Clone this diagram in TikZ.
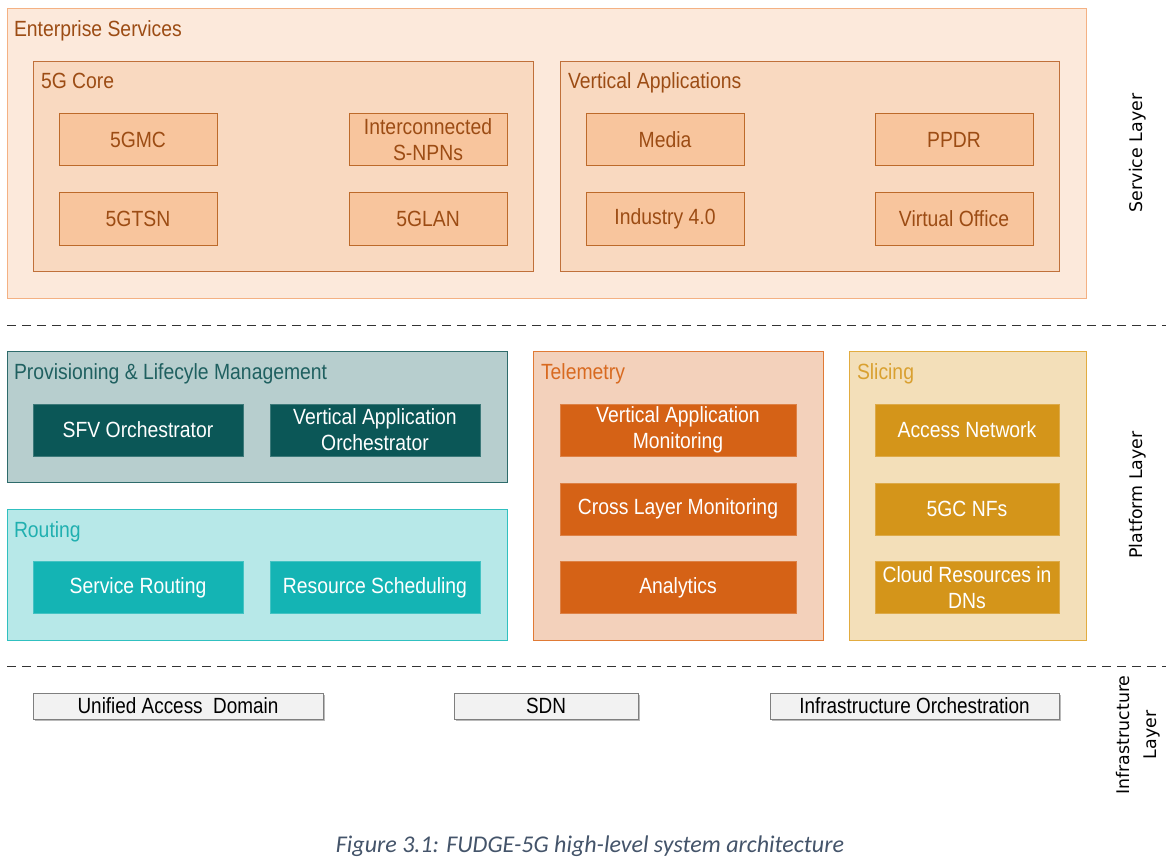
\documentclass[tikz,border=0pt]{standalone}
\usepackage{fontspec}
\usetikzlibrary{shadows}
\setmainfont{Liberation Sans}[FakeStretch=0.88]
\newfontfamily\layerfont{DejaVu Sans}
\newfontfamily\capfont{Carlito}
\newfontfamily\narrowfont{Liberation Sans}[FakeStretch=0.86]
\definecolor{esfill}{HTML}{FCE9DB}
\definecolor{esdraw}{HTML}{F4B183}
\definecolor{corefill}{HTML}{F9D9C0}
\definecolor{coredraw}{HTML}{C0703A}
\definecolor{itemfill}{HTML}{F8C59D}
\definecolor{itemdraw}{HTML}{BD6A2A}
\definecolor{brown}{HTML}{9C4C14}
\definecolor{provfill}{HTML}{B7CECE}
\definecolor{provdraw}{HTML}{2E6B6B}
\definecolor{provtext}{HTML}{1F6060}
\definecolor{provitem}{HTML}{0B5757}
\definecolor{routfill}{HTML}{B7E8E8}
\definecolor{routdraw}{HTML}{30C0C0}
\definecolor{routtext}{HTML}{20B0B0}
\definecolor{routitem}{HTML}{14B4B4}
\definecolor{telfill}{HTML}{F3D1BB}
\definecolor{teldraw}{HTML}{E07A35}
\definecolor{teltext}{HTML}{D86A20}
\definecolor{telitem}{HTML}{D56216}
\definecolor{slifill}{HTML}{F3DFB9}
\definecolor{slidraw}{HTML}{E2AC40}
\definecolor{slitext}{HTML}{D9A030}
\definecolor{sliitem}{HTML}{D4951A}
\definecolor{capcol}{HTML}{44546A}
\definecolor{infdraw}{HTML}{7F7F7F}
\definecolor{inffill}{HTML}{F2F2F2}
\begin{document}
\begin{tikzpicture}[x=1pt,y=-1pt,
  every node/.style={inner sep=0pt,outer sep=0pt},
  txt/.style={font=\fontsize{22}{26}\selectfont,align=center},
  esbox/.style={draw=esdraw,fill=esfill,line width=1pt},
  corebox/.style={draw=coredraw,fill=corefill,line width=1pt},
  sitem/.style={draw=itemdraw,fill=itemfill,line width=1pt,txt,text=brown,minimum width=158pt,minimum height=52pt},
  pitem/.style={fill=provitem,draw=provitem!80!white,txt,text=white,minimum width=210pt,minimum height=52pt},
  ritem/.style={fill=routitem,draw=routitem!80!white,txt,text=white,minimum width=210pt,minimum height=52pt},
  titem/.style={fill=telitem,draw=telitem!80!white,txt,text=white,minimum width=236pt,minimum height=52pt},
  litem/.style={fill=sliitem,draw=sliitem!80!white,txt,text=white,minimum width=184pt,minimum height=52pt},
  ibox/.style={draw=infdraw,fill=inffill,line width=1pt,font=\narrowfont\fontsize{22}{24}\selectfont,minimum height=26pt,
    drop shadow={opacity=0.45,shadow xshift=1.5pt,shadow yshift=-1.5pt,fill=black!60}},
  ttl/.style={anchor=base west,font=\fontsize{22}{24}\selectfont},
  layer/.style={rotate=90,font=\layerfont\fontsize{17.4}{27}\selectfont,align=center},
  sep/.style={dashed,dash pattern=on 9pt off 6pt,line width=1pt,black!80}
]
\useasboundingbox (0,0) rectangle (1171,864);
\fill[white] (0,0) rectangle (1171,864);
% Service layer
\node[esbox,minimum width=1079pt,minimum height=289pt] (es) at (546.5,153.5) {};
\node[ttl,text=brown] (est) at (14,37) {Enterprise Services};
\node[corebox,minimum width=500pt,minimum height=209pt] (core) at (283,166.5) {};
\node[ttl,text=brown] (coret) at (41,89) {5G Core};
\node[sitem] (mc) at (138,140) {5GMC};
\node[sitem] (tsn) at (138,219) {5GTSN};
\node[sitem] (snpn) at (428,140) {Interconnected\\S-NPNs};
\node[sitem] (lan) at (428,219) {5GLAN};
\node[corebox,minimum width=499pt,minimum height=209pt] (va) at (809.5,166.5) {};
\node[ttl,text=brown] (vat) at (568,89) {Vertical Applications};
\node[sitem] (media) at (665,140) {Media};
\node[sitem] (ppdr) at (954,140) {PPDR};
\node[sitem] (ind) at (665,219) {Industry 4.0};
\node[sitem] (vo) at (954,219) {Virtual Office};
\node[layer] (sl) at (1138,153) {Service Layer};
% separator
\coordinate (s1a) at (7,325); \coordinate (s1b) at (1166,325);
\draw[sep] (s1a) -- (s1b);
% Platform layer
\node[draw=provdraw,fill=provfill,line width=1pt,minimum width=500pt,minimum height=131pt] (prov) at (257,416.5) {};
\node[ttl,text=provtext] (provt) at (14,379) {Provisioning \& Lifecyle Management};
\node[pitem] (sfv) at (138,430) {SFV Orchestrator};
\node[pitem] (vao) at (375,430) {Vertical Application\\Orchestrator};
\node[draw=routdraw,fill=routfill,line width=1pt,minimum width=500pt,minimum height=131pt] (rout) at (257,574.5) {};
\node[ttl,text=routtext] (routt) at (14,537) {Routing};
\node[ritem] (sr) at (138,587.5) {Service Routing};
\node[ritem] (rs) at (375,587.5) {Resource Scheduling};
\node[draw=teldraw,fill=telfill,line width=1pt,minimum width=290pt,minimum height=289pt] (tel) at (678,495.5) {};
\node[ttl,text=teltext] (telt) at (541,379) {Telemetry};
\node[titem] (vam) at (678,430) {Vertical Application\\Monitoring};
\node[titem] (clm) at (678,509) {Cross Layer Monitoring};
\node[titem] (ana) at (678,587.5) {Analytics};
\node[draw=slidraw,fill=slifill,line width=1pt,minimum width=237pt,minimum height=289pt] (sli) at (967.5,495.5) {};
\node[ttl,text=slitext] (slit) at (857,379) {Slicing};
\node[litem] (an) at (967,430) {Access Network};
\node[litem] (nfs) at (967,509) {5GC NFs};
\node[litem] (crd) at (967,587.5) {Cloud Resources in\\DNs};
\node[layer] (pl) at (1138,495) {Platform Layer};
% separator
\coordinate (s2a) at (7,666); \coordinate (s2b) at (1166,666);
\draw[sep] (s2a) -- (s2b);
% Infrastructure layer
\node[ibox,minimum width=290pt] (uad) at (178,706) {Unified Access\ \ Domain};
\node[ibox,minimum width=184pt] (sdn) at (546,706) {SDN};
\node[ibox,minimum width=289pt] (io) at (914.5,706) {Infrastructure Orchestration};
\node[layer] (il) at (1138,735) {Infrastructure\\Layer};
% caption
\node[font=\capfont\itshape\fontsize{24}{26}\selectfont,text=capcol] (cap) at (590,846) {Figure 3.1: FUDGE-5G high-level system architecture};
\end{tikzpicture}
\end{document}
